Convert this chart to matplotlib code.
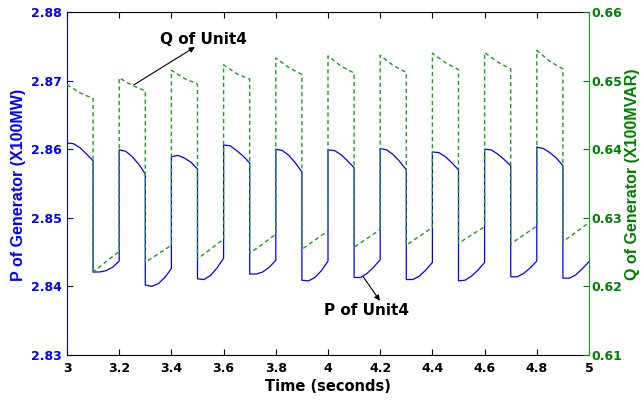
import matplotlib

matplotlib.use("Agg")
import matplotlib.pyplot as plt

# one cycle = 0.1 s "high" followed by 0.1 s "low"
cycle_start = [3.0, 3.2, 3.4, 3.6, 3.8, 4.0, 4.2, 4.4, 4.6, 4.8]
seg_offsets = [0.0, 0.025, 0.05, 0.075, 0.1]

# P of Unit4 (x100 MW), read along each half cycle
p_high = [
    [2.8609, 2.8608, 2.8602, 2.8593, 2.8583],
    [2.8599, 2.8597, 2.8589, 2.8578, 2.8564],
    [2.8589, 2.8591, 2.8587, 2.8581, 2.8571],
    [2.8606, 2.8605, 2.8598, 2.8590, 2.8580],
    [2.8600, 2.8598, 2.8591, 2.8580, 2.8567],
    [2.8599, 2.8598, 2.8592, 2.8583, 2.8573],
    [2.8601, 2.8599, 2.8592, 2.8582, 2.8570],
    [2.8596, 2.8595, 2.8589, 2.8580, 2.8570],
    [2.8600, 2.8599, 2.8593, 2.8585, 2.8576],
    [2.8603, 2.8601, 2.8595, 2.8587, 2.8576],
]
p_low = [
    [2.8421, 2.8421, 2.8423, 2.8428, 2.8437],
    [2.8402, 2.8400, 2.8404, 2.8413, 2.8426],
    [2.8411, 2.8410, 2.8416, 2.8427, 2.8441],
    [2.8418, 2.8418, 2.8421, 2.8428, 2.8438],
    [2.8409, 2.8408, 2.8413, 2.8423, 2.8437],
    [2.8413, 2.8413, 2.8419, 2.8428, 2.8439],
    [2.8410, 2.8410, 2.8415, 2.8424, 2.8435],
    [2.8408, 2.8409, 2.8415, 2.8424, 2.8435],
    [2.8414, 2.8414, 2.8419, 2.8427, 2.8437],
    [2.8412, 2.8412, 2.8417, 2.8426, 2.8436],
]

# Q of Unit4 (x100 MVAR)
q_offsets_high = [0.0, 0.05, 0.1]
q_offsets_low = [0.1, 0.2]
q_high = [
    [0.6494, 0.6482, 0.6474],
    [0.6504, 0.6493, 0.6485],
    [0.6515, 0.6503, 0.6495],
    [0.6523, 0.6510, 0.6502],
    [0.6533, 0.6519, 0.6509],
    [0.6536, 0.6521, 0.6511],
    [0.6537, 0.6522, 0.6512],
    [0.6540, 0.6526, 0.6516],
    [0.6541, 0.6527, 0.6517],
    [0.6544, 0.6528, 0.6517],
]
q_low = [
    [0.6221, 0.6251],
    [0.6235, 0.6260],
    [0.6240, 0.6269],
    [0.6248, 0.6276],
    [0.6254, 0.6281],
    [0.6257, 0.6283],
    [0.6260, 0.6286],
    [0.6263, 0.6287],
    [0.6262, 0.6288],
    [0.6265, 0.6293],
]

x_ticks = [3, 3.2, 3.4, 3.6, 3.8, 4, 4.2, 4.4, 4.6, 4.8, 5]
x_tick_labels = ["3", "3.2", "3.4", "3.6", "3.8", "4", "4.2", "4.4", "4.6", "4.8", "5"]
p_ticks = [2.83, 2.84, 2.85, 2.86, 2.87, 2.88]
q_ticks = [0.61, 0.62, 0.63, 0.64, 0.65, 0.66]

BLUE = "#0000ff"
GREEN = "#008000"
LINE_GREEN = "#1f9a1f"

# build the step-like traces
t_p, p_vals = [], []
for i, t0 in enumerate(cycle_start):
    t_p += [t0 + o for o in seg_offsets]
    p_vals += p_high[i]
    t_p += [t0 + 0.1 + o for o in seg_offsets]
    p_vals += p_low[i]

t_q, q_vals = [], []
for i, t0 in enumerate(cycle_start):
    t_q += [t0 + o for o in q_offsets_high]
    q_vals += q_high[i]
    t_q += [t0 + o for o in q_offsets_low]
    q_vals += q_low[i]

fig = plt.figure(figsize=(6.44, 4.0), dpi=100)
ax = fig.add_axes([67 / 644, 45 / 400, 522 / 644, 343 / 400])
ax2 = ax.twinx()

ax.plot(t_p, p_vals, color=BLUE, lw=0.9)
ax2.plot(t_q, q_vals, color=LINE_GREEN, lw=1.0, linestyle=(0, (3, 2.2)))

ax.set_xlim(3, 5)
ax.set_ylim(2.83, 2.88)
ax2.set_ylim(0.61, 0.66)

tick_font = dict(family="DejaVu Sans", weight="bold", size=9)
ax.set_xticks(x_ticks)
ax.set_xticklabels(x_tick_labels, **tick_font)
ax.set_yticks(p_ticks)
ax.set_yticklabels([f"{v:.2f}" for v in p_ticks], color=BLUE, **tick_font)
ax2.set_yticks(q_ticks)
ax2.set_yticklabels([f"{v:.2f}" for v in q_ticks], color=GREEN, **tick_font)

ax.tick_params(axis="x", direction="in", length=4, width=0.8, top=True, pad=5, colors="black")
ax.tick_params(axis="y", direction="in", length=4.5, width=0.8, colors=BLUE, pad=3.5)
ax2.tick_params(axis="y", direction="in", length=4.5, width=0.8, colors=GREEN, pad=1.5)

ax.spines["left"].set_color(BLUE)
ax2.spines["left"].set_visible(False)
ax2.spines["right"].set_color(LINE_GREEN)
ax.spines["right"].set_visible(False)
for s in ("top", "bottom"):
    ax.spines[s].set_color("black")
    ax2.spines[s].set_visible(False)

ax.set_xlabel("Time (seconds)", family="DejaVu Sans", weight="bold", size=10.5, labelpad=3)
ax.set_ylabel("P of Generator (X100MW)", family="Liberation Sans", weight="bold",
              size=11.5, color=BLUE, va="center")
ax.yaxis.set_label_coords(-0.093, 0.497)
ax2.set_ylabel("Q of Generator (X100MVAR)", family="Liberation Sans", weight="bold",
               size=11.5, color=GREEN, va="center", rotation=90)
ax2.yaxis.set_label_coords(1.084, 0.526)

ann_font = dict(family="DejaVu Sans", weight="bold", size=11)
arrow = dict(arrowstyle="-|>", color="black", lw=0.8, mutation_scale=8,
             shrinkA=0, shrinkB=0)
ax2.annotate("", xy=(3.490, 0.6549), xytext=(3.257, 0.6494), arrowprops=arrow)
ax2.text(3.523, 0.6553, "Q of Unit4", ha="center", va="baseline", **ann_font)
ax.annotate("", xy=(4.199, 2.8379), xytext=(4.135, 2.8414), arrowprops=arrow)
ax.text(4.148, 2.8358, "P of Unit4", ha="center", va="baseline", **ann_font)

fig.savefig("out.png", dpi=100)
